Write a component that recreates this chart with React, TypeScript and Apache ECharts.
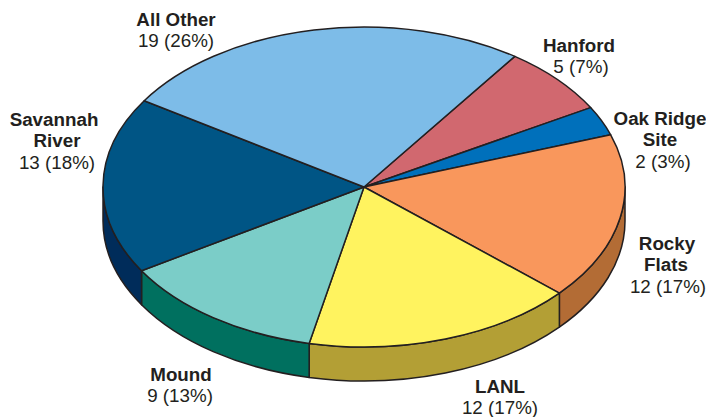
import React, { useEffect, useRef } from "react";
import * as echarts from "echarts";

const categories = ["Hanford", "Oak Ridge Site", "Rocky Flats", "LANL", "Mound", "Savannah River", "All Other"];
const counts = [5, 2, 12, 12, 9, 13, 19];
const percents = [7, 3, 17, 17, 13, 18, 26];
const nameLines = [["Hanford"], ["Oak Ridge", "Site"], ["Rocky", "Flats"], ["LANL"], ["Mound"], ["Savannah", "River"], ["All Other"]];

const topColors = ["#d1686f", "#0070bb", "#f9975c", "#fff35f", "#7bcdc8", "#005585", "#7dbce8"];
const wallColors = ["#9c4e53", "#00548c", "#b36c35", "#b39f35", "#00705f", "#002c5a", "#5f8fb0"];
const labelRowX = [
  [579, 581],
  [660, 660, 663],
  [667, 666, 668],
  [500, 500],
  [181, 180],
  [54, 57, 57],
  [176, 176],
];
const labelTopY = [45, 118, 243, 386, 374, 119, 19];

const CX = 364, CY = 187, RX = 261, RY = 160, DEPTH = 34, START = 35.3;
const LINE = "#231f20";
const FONT = '"Liberation Sans", Arial, sans-serif';
const TOTAL = percents.reduce((a, b) => a + b, 0);

const running: number[] = [];
percents.reduce((acc, v) => { running.push(acc); return acc + v; }, 0);
const sliceData = percents.map((v, i) => ({ name: categories[i], value: [running[i], v, i] }));

const pt = (deg: number, dy = 0) => {
  const r = (deg * Math.PI) / 180;
  return [CX + RX * Math.sin(r), CY - RY * Math.cos(r) + dy];
};
const arc = (to: number[], cw: boolean) => `A ${RX} ${RY} 0 0 ${cw ? 1 : 0} ${to[0]} ${to[1]}`;

const angles = (api: any) => {
  const a0 = START + (360 * api.value(0)) / TOTAL;
  return [a0, a0 + (360 * api.value(1)) / TOTAL];
};

const renderWall = (_: any, api: any) => {
  const [a0, a1] = angles(api);
  const from = Math.max(a0, 90), to = Math.min(a1, 270);
  if (from >= to) return null;
  const p0 = pt(from), p1 = pt(to), q1 = pt(to, DEPTH), q0 = pt(from, DEPTH);
  const d = `M ${p0[0]} ${p0[1]} ${arc(p1, true)} L ${q1[0]} ${q1[1]} ${arc(q0, false)} Z`;
  return {
    type: "path",
    shape: { pathData: d },
    style: { fill: wallColors[api.value(2)], stroke: LINE, lineWidth: 1.5, lineJoin: "round" },
  };
};

const renderTop = (_: any, api: any) => {
  const [a0, a1] = angles(api);
  const p0 = pt(a0), p1 = pt(a1);
  const d = `M ${CX} ${CY} L ${p0[0]} ${p0[1]} ${arc(p1, true)} Z`;
  return {
    type: "path",
    shape: { pathData: d },
    style: { fill: topColors[api.value(2)], stroke: LINE, lineWidth: 1.5, lineJoin: "round" },
  };
};

const labelElements = () => {
  const out: any[] = [];
  nameLines.forEach((lines, i) => {
    const rows = [...lines, `${counts[i]} (${percents[i]}%)`];
    rows.forEach((t, k) => {
      const isValue = k === rows.length - 1;
      out.push({
        type: "text",
        x: labelRowX[i][k],
        y: labelTopY[i] + k * 21.5,
        silent: true,
        style: {
          text: t,
          align: "center",
          verticalAlign: "middle",
          fontFamily: FONT,
          fontSize: 18.8,
          fontWeight: isValue ? "normal" : "bold",
          fill: LINE,
        },
      });
    });
  });
  return out;
};

export default function App() {
  const ref = useRef<HTMLDivElement>(null);
  useEffect(() => {
    const chart = echarts.init(ref.current!, null, { renderer: "svg" });
    chart.setOption({
      animation: false,
      backgroundColor: "#ffffff",
      series: [
        { type: "custom", coordinateSystem: "none", silent: true, z: 1, data: sliceData, renderItem: renderWall },
        { type: "custom", coordinateSystem: "none", silent: true, z: 2, data: sliceData, renderItem: renderTop },
      ],
      graphic: { elements: labelElements() },
    });
    return () => chart.dispose();
  }, []);
  return <div ref={ref} style={{ position: "absolute", left: 0, top: 0, width: 706, height: 417 }} />;
}
